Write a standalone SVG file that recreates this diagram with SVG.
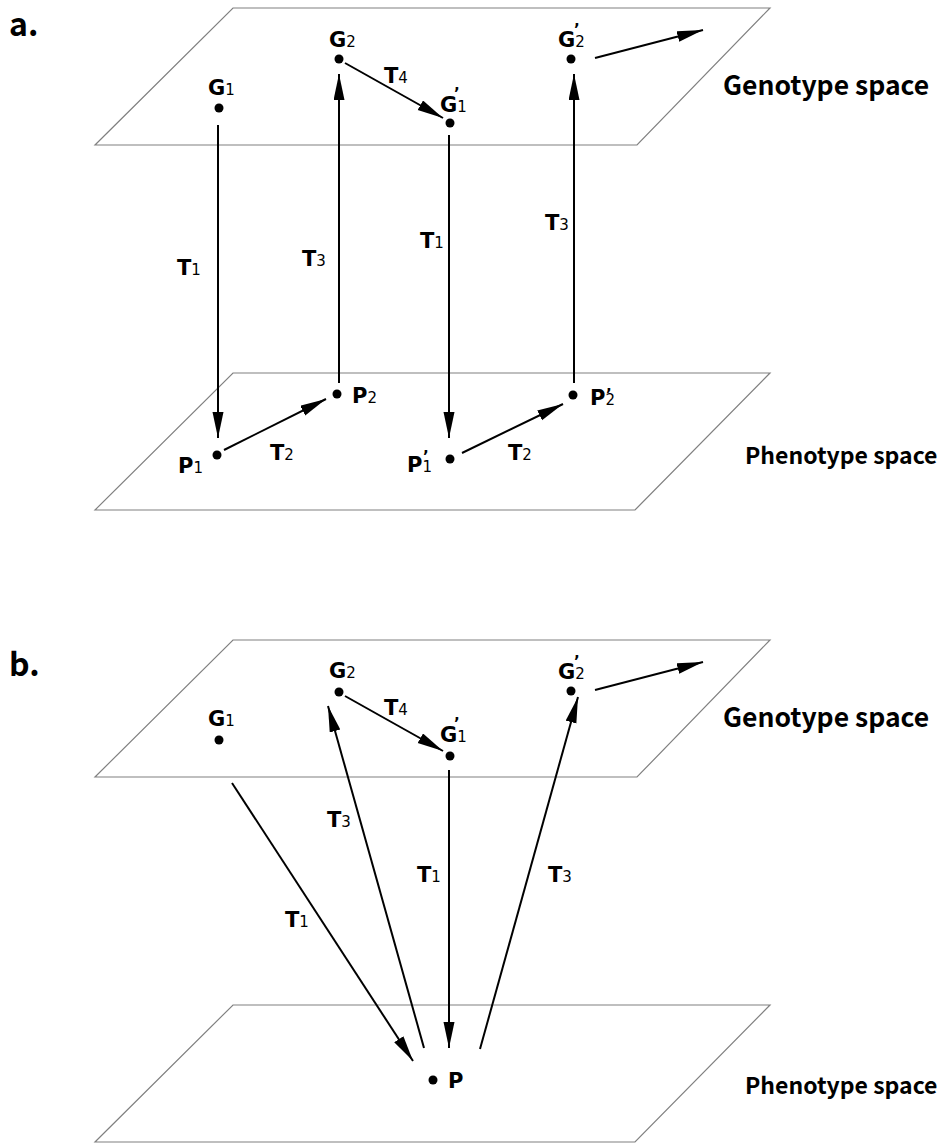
<svg xmlns="http://www.w3.org/2000/svg" width="944" height="1144" viewBox="0 0 944 1144">
<style>
.plane{fill:none;stroke:#808080;stroke-width:1.2}
.c{stroke:#000;stroke-width:2;fill:none;marker-end:url(#ah)}
.lbl{font-family:"DejaVu Sans",sans-serif;font-weight:bold;font-size:21px;fill:#000}
.sub{font-size:15px;font-weight:normal}
.pr{font-size:15px;font-weight:bold}
.sp{font-family:"Noto Sans CJK SC","Noto Sans",sans-serif;font-weight:bold;font-size:26.5px;fill:#000}
.sp2{font-family:"Noto Sans CJK SC","Noto Sans",sans-serif;font-weight:bold;font-size:23px;fill:#000}
.pl{font-family:"Noto Sans CJK SC","Noto Sans",sans-serif;font-weight:bold;font-size:32px;fill:#000}
.dot{fill:#000}
</style>
<defs>
<marker id="ah" markerUnits="userSpaceOnUse" markerWidth="28" markerHeight="12" refX="26" refY="5.5" orient="auto">
<path d="M0,0 L26,5.5 L0,11 Z" fill="#000"/>
</marker>
</defs>
<rect width="944" height="1144" fill="#fff"/>

<g id="panel-a-label"><text class="pl" x="9" y="36">a.</text></g>
<g id="panel-b-label"><text class="pl" x="9" y="676">b.</text></g>

<g id="planes">
<polygon id="geno-a" class="plane" points="233,8 770,8 637,145 95,145"/>
<polygon id="pheno-a" class="plane" points="233,373 770,373 635,510 95,510"/>
<polygon id="geno-b" class="plane" points="233,640 770,640 637,777 95,777"/>
<polygon id="pheno-b" class="plane" points="233,1005 770,1005 635,1142 95,1142"/>
</g>

<g id="space-labels">
<text class="sp" x="723" y="95">Genotype space</text>
<text class="sp2" x="745" y="464">Phenotype space</text>
<text class="sp" x="723" y="727">Genotype space</text>
<text class="sp2" x="745" y="1094">Phenotype space</text>
</g>

<g id="connectors">
<!-- panel a -->
<line class="c" x1="345" y1="63" x2="443" y2="118"/>
<line class="c" x1="595" y1="58" x2="703" y2="30"/>
<line class="c" x1="218" y1="125" x2="218" y2="438"/>
<line class="c" x1="339" y1="383" x2="339" y2="74"/>
<line class="c" x1="449" y1="135" x2="449" y2="438"/>
<line class="c" x1="574" y1="383" x2="574" y2="74"/>
<line class="c" x1="224" y1="450" x2="326" y2="399"/>
<line class="c" x1="462" y1="453" x2="563" y2="404"/>
<!-- panel b -->
<line class="c" x1="345" y1="696" x2="443" y2="751"/>
<line class="c" x1="595" y1="690" x2="703" y2="662"/>
<line class="c" x1="232" y1="783" x2="413" y2="1061"/>
<line class="c" x1="424" y1="1048" x2="328" y2="706"/>
<line class="c" x1="449" y1="770" x2="449" y2="1048"/>
<line class="c" x1="480" y1="1049" x2="578" y2="697"/>
</g>

<g id="edge-labels">
<text class="lbl" x="177" y="275">T<tspan class="sub">1</tspan></text>
<text class="lbl" x="302" y="266">T<tspan class="sub">3</tspan></text>
<text class="lbl" x="420" y="248">T<tspan class="sub">1</tspan></text>
<text class="lbl" x="545" y="230">T<tspan class="sub">3</tspan></text>
<text class="lbl" x="384" y="83">T<tspan class="sub">4</tspan></text>
<text class="lbl" x="270" y="460">T<tspan class="sub">2</tspan></text>
<text class="lbl" x="508" y="460">T<tspan class="sub">2</tspan></text>
<text class="lbl" x="384" y="715">T<tspan class="sub">4</tspan></text>
<text class="lbl" x="285" y="927">T<tspan class="sub">1</tspan></text>
<text class="lbl" x="327" y="827">T<tspan class="sub">3</tspan></text>
<text class="lbl" x="417" y="882">T<tspan class="sub">1</tspan></text>
<text class="lbl" x="548" y="882">T<tspan class="sub">3</tspan></text>
</g>

<g id="node-a-G1"><circle class="dot" cx="219" cy="108" r="4.5"/><text class="lbl" x="208" y="95">G<tspan class="sub">1</tspan></text></g>
<g id="node-a-G2"><circle class="dot" cx="339" cy="59" r="4.5"/><text class="lbl" x="329" y="47">G<tspan class="sub">2</tspan></text></g>
<g id="node-a-G1p"><circle class="dot" cx="450" cy="123" r="4.5"/><text class="lbl" x="440" y="112">G<tspan class="sub">1</tspan><tspan class="pr" x="454" y="99">’</tspan></text></g>
<g id="node-a-G2p"><circle class="dot" cx="571" cy="59" r="4.5"/><text class="lbl" x="558" y="47">G<tspan class="sub">2</tspan><tspan class="pr" x="574" y="35">’</tspan></text></g>
<g id="node-a-P1"><circle class="dot" cx="217" cy="455" r="4.5"/><text class="lbl" x="178" y="473">P<tspan class="sub">1</tspan></text></g>
<g id="node-a-P2"><circle class="dot" cx="337" cy="394" r="4.5"/><text class="lbl" x="352" y="403">P<tspan class="sub">2</tspan></text></g>
<g id="node-a-P1p"><circle class="dot" cx="450" cy="459" r="4.5"/><text class="lbl" x="407" y="472">P<tspan class="sub">1</tspan><tspan class="pr" x="423" y="462">’</tspan></text></g>
<g id="node-a-P2p"><circle class="dot" cx="573" cy="395" r="4.5"/><text class="lbl" x="590" y="405">P<tspan class="sub">2</tspan><tspan class="pr" x="606" y="400">’</tspan></text></g>

<g id="node-b-G1"><circle class="dot" cx="219" cy="740" r="4.5"/><text class="lbl" x="208" y="726">G<tspan class="sub">1</tspan></text></g>
<g id="node-b-G2"><circle class="dot" cx="339" cy="692" r="4.5"/><text class="lbl" x="329" y="678">G<tspan class="sub">2</tspan></text></g>
<g id="node-b-G1p"><circle class="dot" cx="450" cy="756" r="4.5"/><text class="lbl" x="440" y="742">G<tspan class="sub">1</tspan><tspan class="pr" x="454" y="729">’</tspan></text></g>
<g id="node-b-G2p"><circle class="dot" cx="571" cy="691" r="4.5"/><text class="lbl" x="558" y="679">G<tspan class="sub">2</tspan><tspan class="pr" x="574" y="667">’</tspan></text></g>
<g id="node-b-P"><circle class="dot" cx="433" cy="1080" r="4.5"/><text class="lbl" x="448" y="1088">P</text></g>
</svg>
